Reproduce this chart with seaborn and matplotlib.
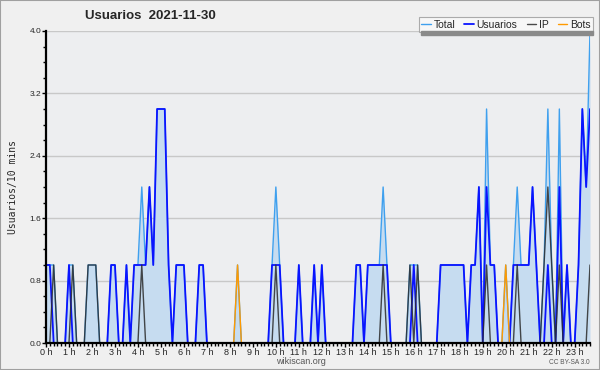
import matplotlib
matplotlib.use("Agg")
import matplotlib.pyplot as plt
from matplotlib.ticker import MultipleLocator, FormatStrFormatter
from matplotlib.patches import Rectangle
import pandas as pd
import seaborn as sns

# users per 10-minute slot on 2021-11-30, one row per hour
total = [
    1, 1, 1, 0, 0, 0,   # 0 h
    1, 1, 0, 0, 0, 1,   # 1 h
    1, 1, 0, 0, 0, 1,   # 2 h
    1, 0, 0, 1, 0, 1,   # 3 h
    1, 2, 1, 2, 1, 3,   # 4 h
    3, 3, 1, 0, 1, 1,   # 5 h
    1, 0, 0, 0, 1, 1,   # 6 h
    0, 0, 0, 0, 0, 0,   # 7 h
    0, 0, 1, 0, 0, 0,   # 8 h
    0, 0, 0, 0, 0, 1,   # 9 h
    2, 1, 0, 0, 0, 0,   # 10 h
    1, 0, 0, 0, 1, 0,   # 11 h
    1, 0, 0, 0, 0, 0,   # 12 h
    0, 0, 0, 1, 1, 0,   # 13 h
    1, 1, 1, 1, 2, 1,   # 14 h
    0, 0, 0, 0, 0, 1,   # 15 h
    1, 1, 0, 0, 0, 0,   # 16 h
    0, 1, 1, 1, 1, 1,   # 17 h
    1, 1, 0, 1, 1, 2,   # 18 h
    0, 3, 1, 1, 0, 0,   # 19 h
    1, 0, 1, 2, 1, 1,   # 20 h
    1, 2, 1, 0, 1, 3,   # 21 h
    1, 0, 3, 0, 1, 0,   # 22 h
    0, 1, 3, 2, 4,      # 23 h
]
usuarios = [
    1, 1, 0, 0, 0, 0,
    1, 0, 0, 0, 0, 0,
    0, 0, 0, 0, 0, 1,
    1, 0, 0, 1, 0, 1,
    1, 1, 1, 2, 1, 3,
    3, 3, 1, 0, 1, 1,
    1, 0, 0, 0, 1, 1,
    0, 0, 0, 0, 0, 0,
    0, 0, 0, 0, 0, 0,
    0, 0, 0, 0, 0, 1,
    1, 1, 0, 0, 0, 0,
    1, 0, 0, 0, 1, 0,
    1, 0, 0, 0, 0, 0,
    0, 0, 0, 1, 1, 0,
    1, 1, 1, 1, 1, 1,
    0, 0, 0, 0, 0, 0,
    1, 0, 0, 0, 0, 0,
    0, 1, 1, 1, 1, 1,
    1, 1, 0, 1, 1, 2,
    0, 2, 1, 1, 0, 0,
    0, 0, 1, 1, 1, 1,
    1, 2, 1, 0, 0, 1,
    0, 0, 2, 0, 1, 0,
    0, 1, 3, 2, 3,
]
ip = [
    0, 0, 1, 0, 0, 0,
    0, 1, 0, 0, 0, 1,
    1, 1, 0, 0, 0, 0,
    0, 0, 0, 0, 0, 0,
    0, 1, 0, 0, 0, 0,
    0, 0, 0, 0, 0, 0,
    0, 0, 0, 0, 0, 0,
    0, 0, 0, 0, 0, 0,
    0, 0, 0, 0, 0, 0,
    0, 0, 0, 0, 0, 0,
    1, 0, 0, 0, 0, 0,
    0, 0, 0, 0, 0, 0,
    0, 0, 0, 0, 0, 0,
    0, 0, 0, 0, 0, 0,
    0, 0, 0, 0, 1, 0,
    0, 0, 0, 0, 0, 1,
    0, 1, 0, 0, 0, 0,
    0, 0, 0, 0, 0, 0,
    0, 0, 0, 0, 0, 0,
    0, 1, 0, 0, 0, 0,
    0, 0, 0, 1, 0, 0,
    0, 0, 0, 0, 1, 2,
    1, 0, 1, 0, 0, 0,
    0, 0, 0, 0, 1,
]
bots = [
    0, 0, 0, 0, 0, 0,
    0, 0, 0, 0, 0, 0,
    0, 0, 0, 0, 0, 0,
    0, 0, 0, 0, 0, 0,
    0, 0, 0, 0, 0, 0,
    0, 0, 0, 0, 0, 0,
    0, 0, 0, 0, 0, 0,
    0, 0, 0, 0, 0, 0,
    0, 0, 1, 0, 0, 0,
    0, 0, 0, 0, 0, 0,
    0, 0, 0, 0, 0, 0,
    0, 0, 0, 0, 0, 0,
    0, 0, 0, 0, 0, 0,
    0, 0, 0, 0, 0, 0,
    0, 0, 0, 0, 0, 0,
    0, 0, 0, 0, 0, 0,
    0, 0, 0, 0, 0, 0,
    0, 0, 0, 0, 0, 0,
    0, 0, 0, 0, 0, 0,
    0, 0, 0, 0, 0, 0,
    1, 0, 0, 0, 0, 0,
    0, 0, 0, 0, 0, 0,
    0, 0, 0, 0, 0, 0,
    0, 0, 0, 0, 0,
]
hour_labels = [f"{h} h" for h in range(24)]

# time axis in hours, one point every 10 minutes
df = pd.DataFrame({"hora": [i / 6 for i in range(len(total))],
                   "Total": total, "Usuarios": usuarios, "IP": ip, "Bots": bots})

sns.set_theme(style="white")
plt.rcParams["font.family"] = ["Liberation Sans", "DejaVu Sans"]

fig = plt.figure(figsize=(6, 3.7), dpi=100)
fig.patch.set_facecolor("#f0f0f0")
fig.patches.append(Rectangle((0, 0), 1, 1, transform=fig.transFigure, fill=False,
                             edgecolor="#a0a0a0", linewidth=1.5))
ax = fig.add_axes([46 / 600, 27 / 370, 544 / 600, 312 / 370])
ax.set_facecolor("#edeef0")

ax.fill_between(df["hora"], df["Total"], color="#c6dcf0", linewidth=0)
sns.lineplot(data=df, x="hora", y="Total", ax=ax, color="#3fa0ee", linewidth=1.0, label="Total")
sns.lineplot(data=df, x="hora", y="Usuarios", ax=ax, color="#0a14ff", linewidth=1.3, label="Usuarios")
sns.lineplot(data=df, x="hora", y="IP", ax=ax, color="#2a2a2a", linewidth=1.0, alpha=0.85, label="IP")
sns.lineplot(data=df, x="hora", y="Bots", ax=ax, color="#ff9a00", linewidth=1.0, label="Bots")

ax.set_xlim(0, df["hora"].iloc[-1])
ax.set_ylim(0, 4)
ax.set_xticks(range(24))
ax.set_xticklabels(hour_labels)
ax.xaxis.set_minor_locator(MultipleLocator(1 / 6))
ax.yaxis.set_major_locator(MultipleLocator(0.8))
ax.yaxis.set_minor_locator(MultipleLocator(0.2))
ax.yaxis.set_major_formatter(FormatStrFormatter("%.1f"))
ax.tick_params(axis="both", which="major", direction="out", length=3, width=1,
               pad=0.5, color="black", bottom=True, left=True)
ax.tick_params(axis="x", which="major", labelsize=6.5)
ax.tick_params(axis="y", which="major", labelsize=6)
ax.tick_params(axis="both", which="minor", direction="out", length=2.5, width=1,
               color="black", bottom=True, left=True)
ax.grid(axis="y", which="major", color="#c8c8c8", linewidth=1)
ax.set_axisbelow(True)
for side in ["top", "right"]:
    ax.spines[side].set_visible(False)
for side in ["left", "bottom"]:
    ax.spines[side].set_color("black")
    ax.spines[side].set_linewidth(1.6)
    ax.spines[side].set_zorder(6)

ax.set_xlabel("")
ax.set_ylabel("Usuarios/10 mins", family="DejaVu Sans Mono", fontsize=7, labelpad=8)

fig.text(150 / 600, 1 - 16 / 370, "Usuarios  2021-11-30", ha="center", va="center",
         fontsize=9.5, fontweight="bold")
fig.text(301 / 600, 1 - 362 / 370, "wikiscan.org", ha="center", va="center",
         fontsize=6.5, color="#555555")
fig.text(590 / 600, 1 - 362 / 370, "CC BY-SA 3.0", ha="right", va="center",
         fontsize=4.7, color="#555555")

# legend box with the grey bar under it
fig.patches.append(Rectangle((421 / 600, 1 - 35 / 370), 172 / 600, 4 / 370,
                             transform=fig.transFigure, color="#8a8a8a", zorder=0))
leg = ax.legend(loc="upper right", bbox_to_anchor=(593 / 600, 1 - 17 / 370),
                bbox_transform=fig.transFigure, ncol=4, fontsize=7.5, frameon=True,
                fancybox=False, shadow=False, borderpad=0.25, handlelength=0.9,
                handletextpad=0.25, columnspacing=0.9, borderaxespad=0)
leg.get_frame().set_edgecolor("#999999")
leg.get_frame().set_facecolor("#fafafa")
leg.get_frame().set_linewidth(0.8)
leg.set_zorder(10)

plt.savefig("out.png", dpi=100, facecolor=fig.get_facecolor())
plt.close()
